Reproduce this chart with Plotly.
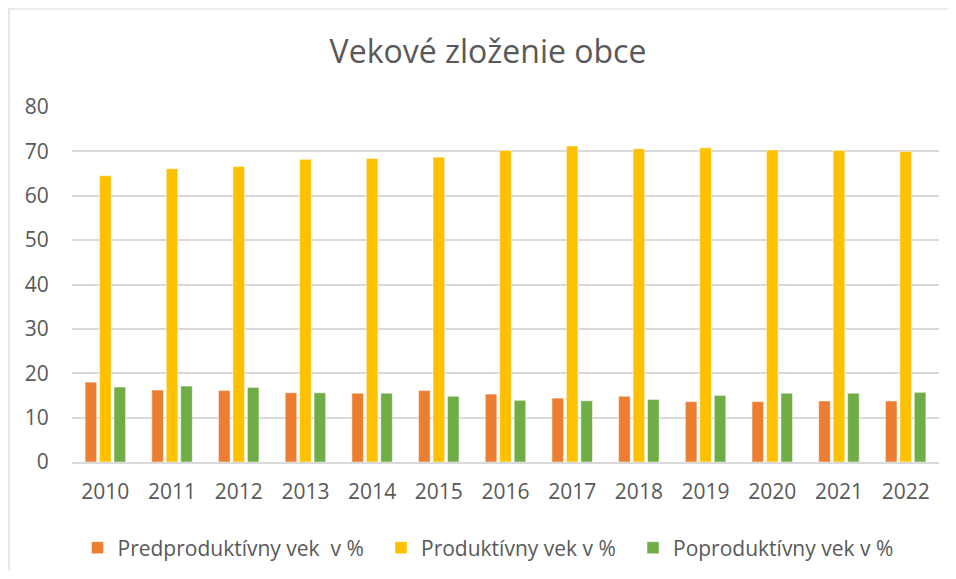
import plotly.graph_objects as go

years = ["2010", "2011", "2012", "2013", "2014", "2015", "2016",
         "2017", "2018", "2019", "2020", "2021", "2022"]
predproduktivny = [18.0, 16.2, 16.1, 15.6, 15.5, 16.1, 15.3, 14.4, 14.8, 13.6, 13.6, 13.75, 13.75]
produktivny = [64.5, 66.1, 66.6, 68.2, 68.4, 68.7, 70.2, 71.2, 70.6, 70.8, 70.3, 70.2, 70.0]
poproduktivny = [16.9, 17.1, 16.8, 15.6, 15.5, 14.8, 13.9, 13.8, 14.1, 15.0, 15.5, 15.5, 15.7]

series_names = ["Predproduktívny vek  v %", "Produktívny vek v %", "Poproduktívny vek v %"]
colors = ["#ED7D31", "#FFC000", "#70AD47"]
values = [predproduktivny, produktivny, poproduktivny]
legend_ids = ["legend", "legend2", "legend3"]

text_color = "#595959"
font_family = "Open Sans, Noto Sans, DejaVu Sans, sans-serif"

fig = go.Figure()
for name, col, vals, lg in zip(series_names, colors, values, legend_ids):
    fig.add_trace(go.Bar(
        x=years, y=vals, name=name, legend=lg,
        marker=dict(color=col, line=dict(color="rgba(255,255,255,0.6)", width=0.8)),
    ))

W, H = 940, 563
L, T = 64, 99
PW, PH = 867, 355

legend_y = -(540 - 454) / PH
def legend_at(px):
    return dict(orientation="h", x=(px - L) / PW, xanchor="left", y=legend_y, yanchor="middle",
                font=dict(size=21, color=text_color, family=font_family), itemwidth=30,
                bgcolor="rgba(0,0,0,0)")

fig.update_layout(
    width=W, height=H,
    paper_bgcolor="white", plot_bgcolor="white",
    margin=dict(l=L, r=W - L - PW, t=T, b=H - T - PH, autoexpand=False),
    barmode="group", bargap=0.35, bargroupgap=0.2,
    font=dict(family=font_family, color=text_color, size=21),
    title=dict(text="Vekové zloženie obce", x=480 / W, xanchor="center",
               y=1 - 44 / H, yanchor="middle", yref="container",
               font=dict(size=32, color=text_color, family=font_family)),
    legend=legend_at(69.5),
    legend2=legend_at(373),
    legend3=legend_at(625),
    showlegend=True,
    xaxis=dict(showgrid=False, showline=True, linecolor="#D9D9D9", linewidth=1.5,
               ticks="outside", ticklen=10, tickcolor="rgba(0,0,0,0)",
               tickfont=dict(size=21, color=text_color)),
    yaxis=dict(range=[0, 80], dtick=10, showgrid=True, gridcolor="#D9D9D9", gridwidth=1.5,
               zeroline=False, showline=False,
               ticks="outside", ticklen=18, tickcolor="rgba(0,0,0,0)",
               tickfont=dict(size=21, color=text_color)),
    shapes=[dict(type="rect", xref="paper", yref="paper",
                 x0=(1 - L) / PW, x1=1.2, y0=-1, y1=1 + (T - 1) / PH,
                 line=dict(color="#D9D9D9", width=1.2), fillcolor="rgba(0,0,0,0)",
                 layer="below")],
)

fig.write_html("out.html")
